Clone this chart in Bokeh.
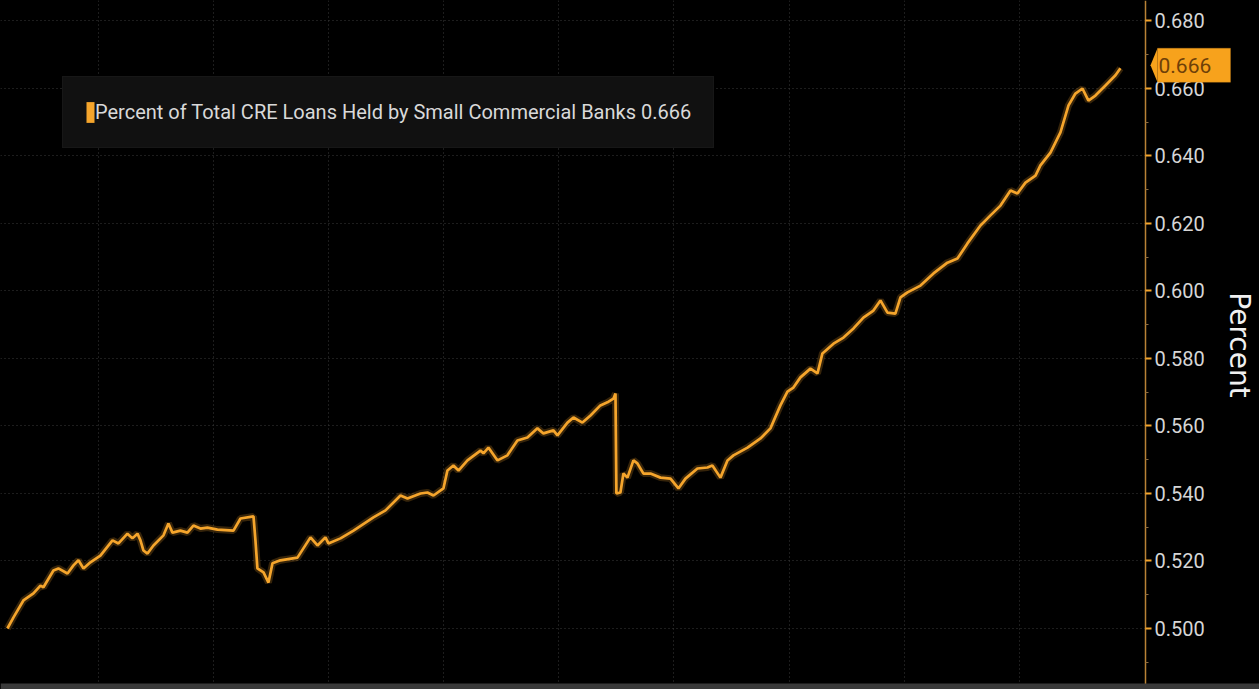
from bokeh.plotting import figure
from bokeh.models import (FixedTicker, Legend, LegendItem, Label, PrintfTickFormatter,
                          Range1d, BoxAnnotation, PolyAnnotation)
from bokeh.embed import file_html
from bokeh.resources import INLINE

# ---------------- data ----------------
series_name = "Percent of Total CRE Loans Held by Small Commercial Banks"
axis_title = "Percent"

years = [
    2014.209, 2014.262, 2014.348, 2014.435, 2014.496, 2014.522, 2014.609, 2014.652, 2014.731, 2014.783,
    2014.826, 2014.870, 2014.930, 2015.017, 2015.122, 2015.174, 2015.252, 2015.295, 2015.339, 2015.365,
    2015.391, 2015.426, 2015.478, 2015.565, 2015.608, 2015.643, 2015.712, 2015.773, 2015.825, 2015.886,
    2015.947, 2016.034, 2016.173, 2016.234, 2016.347, 2016.364, 2016.381, 2016.434, 2016.477, 2016.512,
    2016.581, 2016.729, 2016.842, 2016.903, 2016.972, 2016.998, 2017.103, 2017.216, 2017.389, 2017.494,
    2017.624, 2017.685, 2017.798, 2017.858, 2017.911, 2017.997, 2018.032, 2018.084, 2018.128, 2018.206,
    2018.319, 2018.345, 2018.388, 2018.467, 2018.553, 2018.640, 2018.727, 2018.814, 2018.866, 2018.953,
    2018.988, 2019.075, 2019.127, 2019.205, 2019.275, 2019.361, 2019.422, 2019.474, 2019.492, 2019.500,
    2019.535, 2019.561, 2019.596, 2019.648, 2019.683, 2019.735, 2019.796, 2019.883, 2019.970, 2020.039,
    2020.100, 2020.204, 2020.291, 2020.334, 2020.404, 2020.465, 2020.517, 2020.639, 2020.752, 2020.838,
    2020.925, 2020.986, 2021.038, 2021.099, 2021.186, 2021.247, 2021.290, 2021.386, 2021.473, 2021.560,
    2021.646, 2021.733, 2021.794, 2021.855, 2021.924, 2021.968, 2022.029, 2022.142, 2022.255, 2022.376,
    2022.463, 2022.550, 2022.663, 2022.750, 2022.837, 2022.924, 2022.984, 2023.054, 2023.141, 2023.184,
    2023.271, 2023.358, 2023.428, 2023.488, 2023.549, 2023.601, 2023.662, 2023.749, 2023.836, 2023.879,
]

values = [
    0.5000, 0.5033, 0.5083, 0.5104, 0.5127, 0.5122, 0.5172, 0.5178, 0.5163, 0.5187,
    0.5202, 0.5178, 0.5196, 0.5216, 0.5261, 0.5252, 0.5281, 0.5267, 0.5281, 0.5261,
    0.5231, 0.5222, 0.5246, 0.5276, 0.5311, 0.5284, 0.5290, 0.5284, 0.5305, 0.5296,
    0.5299, 0.5293, 0.5290, 0.5326, 0.5332, 0.5261, 0.5178, 0.5166, 0.5136, 0.5193,
    0.5202, 0.5210, 0.5270, 0.5246, 0.5270, 0.5252, 0.5267, 0.5290, 0.5329, 0.5350,
    0.5394, 0.5385, 0.5400, 0.5403, 0.5394, 0.5415, 0.5468, 0.5483, 0.5468, 0.5498,
    0.5527, 0.5519, 0.5536, 0.5498, 0.5513, 0.5557, 0.5566, 0.5593, 0.5578, 0.5587,
    0.5572, 0.5610, 0.5625, 0.5610, 0.5631, 0.5661, 0.5670, 0.5681, 0.5696, 0.5400,
    0.5403, 0.5459, 0.5447, 0.5498, 0.5489, 0.5459, 0.5459, 0.5447, 0.5444, 0.5415,
    0.5444, 0.5474, 0.5477, 0.5483, 0.5447, 0.5498, 0.5513, 0.5536, 0.5563, 0.5593,
    0.5661, 0.5702, 0.5714, 0.5744, 0.5770, 0.5756, 0.5815, 0.5844, 0.5862, 0.5889,
    0.5921, 0.5942, 0.5972, 0.5936, 0.5933, 0.5981, 0.5996, 0.6016, 0.6052, 0.6084,
    0.6096, 0.6141, 0.6194, 0.6224, 0.6253, 0.6298, 0.6289, 0.6321, 0.6342, 0.6372,
    0.6410, 0.6470, 0.6550, 0.6585, 0.6600, 0.6564, 0.6579, 0.6609, 0.6639, 0.6660,
]

y_ticks = [0.50, 0.52, 0.54, 0.56, 0.58, 0.60, 0.62, 0.64, 0.66, 0.68]
y_minor_ticks = [0.49, 0.51, 0.53, 0.55, 0.57, 0.59, 0.61, 0.63, 0.65, 0.67]
year_grid = [2015, 2016, 2017, 2018, 2019, 2020, 2021, 2022, 2023]

# ---------------- styling ----------------
ORANGE = "#f5a52c"
TAG = "#f7a21c"
FONT = "Roboto"

# scales: 115.1 px per year, 3375 px per unit of value
XPX = 1.0 / 115.1
YPX = 1.0 / 3375.0
x0 = 2014.149
x1 = x0 + 1259 * XPX
axis_x = x0 + 1145 * XPX          # where the value axis sits
y1 = 0.68607
y0 = y1 - 689 * YPX

p = figure(width=1259, height=689, output_backend="svg", toolbar_location=None,
           x_range=Range1d(x0, x1), y_range=Range1d(y0, y1),
           x_axis_location=None, y_axis_location="right",
           background_fill_color="#000000", border_fill_color="#000000",
           outline_line_color=None,
           min_border_left=0, min_border_top=0, min_border_bottom=0, min_border_right=0)

# grids
p.xgrid.ticker = FixedTicker(ticks=year_grid)
p.xgrid.grid_line_color = "#3a3a3a"
p.xgrid.grid_line_dash = "1 3"
p.ygrid.grid_line_color = "#3a3a3a"
p.ygrid.grid_line_dash = "1 3"

# black cover for the grid right of the axis (drawn with the grid, under everything else)
p.add_layout(BoxAnnotation(left=axis_x, fill_color="#000000", fill_alpha=1.0,
                           line_color=None, level="underlay"))

# value axis, drawn at a fixed position inside the canvas
ax = p.yaxis[0]
ax.fixed_location = axis_x
ax.ticker = FixedTicker(ticks=y_ticks, minor_ticks=y_minor_ticks)
ax.formatter = PrintfTickFormatter(format="%.3f")
ax.axis_line_color = "#b98236"
ax.axis_line_width = 1.5
ax.major_tick_line_color = ORANGE
ax.major_tick_line_width = 2
ax.major_tick_out = 6
ax.major_tick_in = 0
ax.minor_tick_line_color = "#8a6a40"
ax.minor_tick_out = 3
ax.minor_tick_in = 0
ax.major_label_text_font = FONT
ax.major_label_text_font_size = "20px"
ax.major_label_text_color = "#d6d6d6"
ax.major_label_standoff = 3
ax.axis_label = axis_title
ax.axis_label_text_font = "DejaVu Sans"
ax.axis_label_text_font_style = "normal"
ax.axis_label_text_font_size = "28px"
ax.axis_label_text_color = "#f0f0f0"
ax.axis_label_standoff = 15

# series (soft glow + line)
p.line(years, values, line_color=ORANGE, line_width=7, line_alpha=0.22)
p.line(years, values, line_color=ORANGE, line_width=2.7)

# zero-height area on the series: invisible in the plot, gives a filled legend swatch
swatch_r = p.varea(x=years, y1=values, y2=values, fill_color=ORANGE, fill_alpha=1.0)
legend = Legend(items=[LegendItem(label=f"{series_name} {values[-1]:.3f}", renderers=[swatch_r])],
                location=(62, 689 - 148), orientation="vertical",
                label_text_font=FONT, label_text_font_size="20px", label_text_color="#d9d9d9",
                background_fill_color="#111111", background_fill_alpha=1.0,
                border_line_color="#1d1d1d", border_line_width=1,
                padding=22, spacing=0, margin=0,
                glyph_width=10, glyph_height=26, label_height=26, label_standoff=0)
p.add_layout(legend)

# last value tag on the axis
last = values[-1]
p.add_layout(PolyAnnotation(xs=[axis_x + 5 * XPX, axis_x + 12 * XPX, axis_x + 12 * XPX],
                            ys=[last + 3 * YPX, last + 20 * YPX, last - 14 * YPX],
                            fill_color=TAG, fill_alpha=1.0, line_color=None))
p.add_layout(BoxAnnotation(left=axis_x + 12 * XPX, right=axis_x + 85 * XPX,
                           top=last + 20 * YPX, bottom=last - 14 * YPX,
                           fill_color=TAG, fill_alpha=1.0, line_color="#c9801a", line_width=1))
p.add_layout(Label(x=axis_x, y=last, x_offset=13, y_offset=3, text=f"{last:.3f}",
                   text_font=FONT, text_font_size="21px", text_color="#6e4008",
                   text_baseline="middle", text_align="left"))

# thin grey strip along the bottom edge
p.add_layout(BoxAnnotation(top=y0 + 6 * YPX, fill_color="#3a3a3a", fill_alpha=1.0, line_color=None))

html = file_html(p, INLINE, title="CRE loans held by small banks")
html = html.replace("<head>", "<head><style>html,body{background:#000000;}</style>", 1)
open("out.html", "w").write(html)
